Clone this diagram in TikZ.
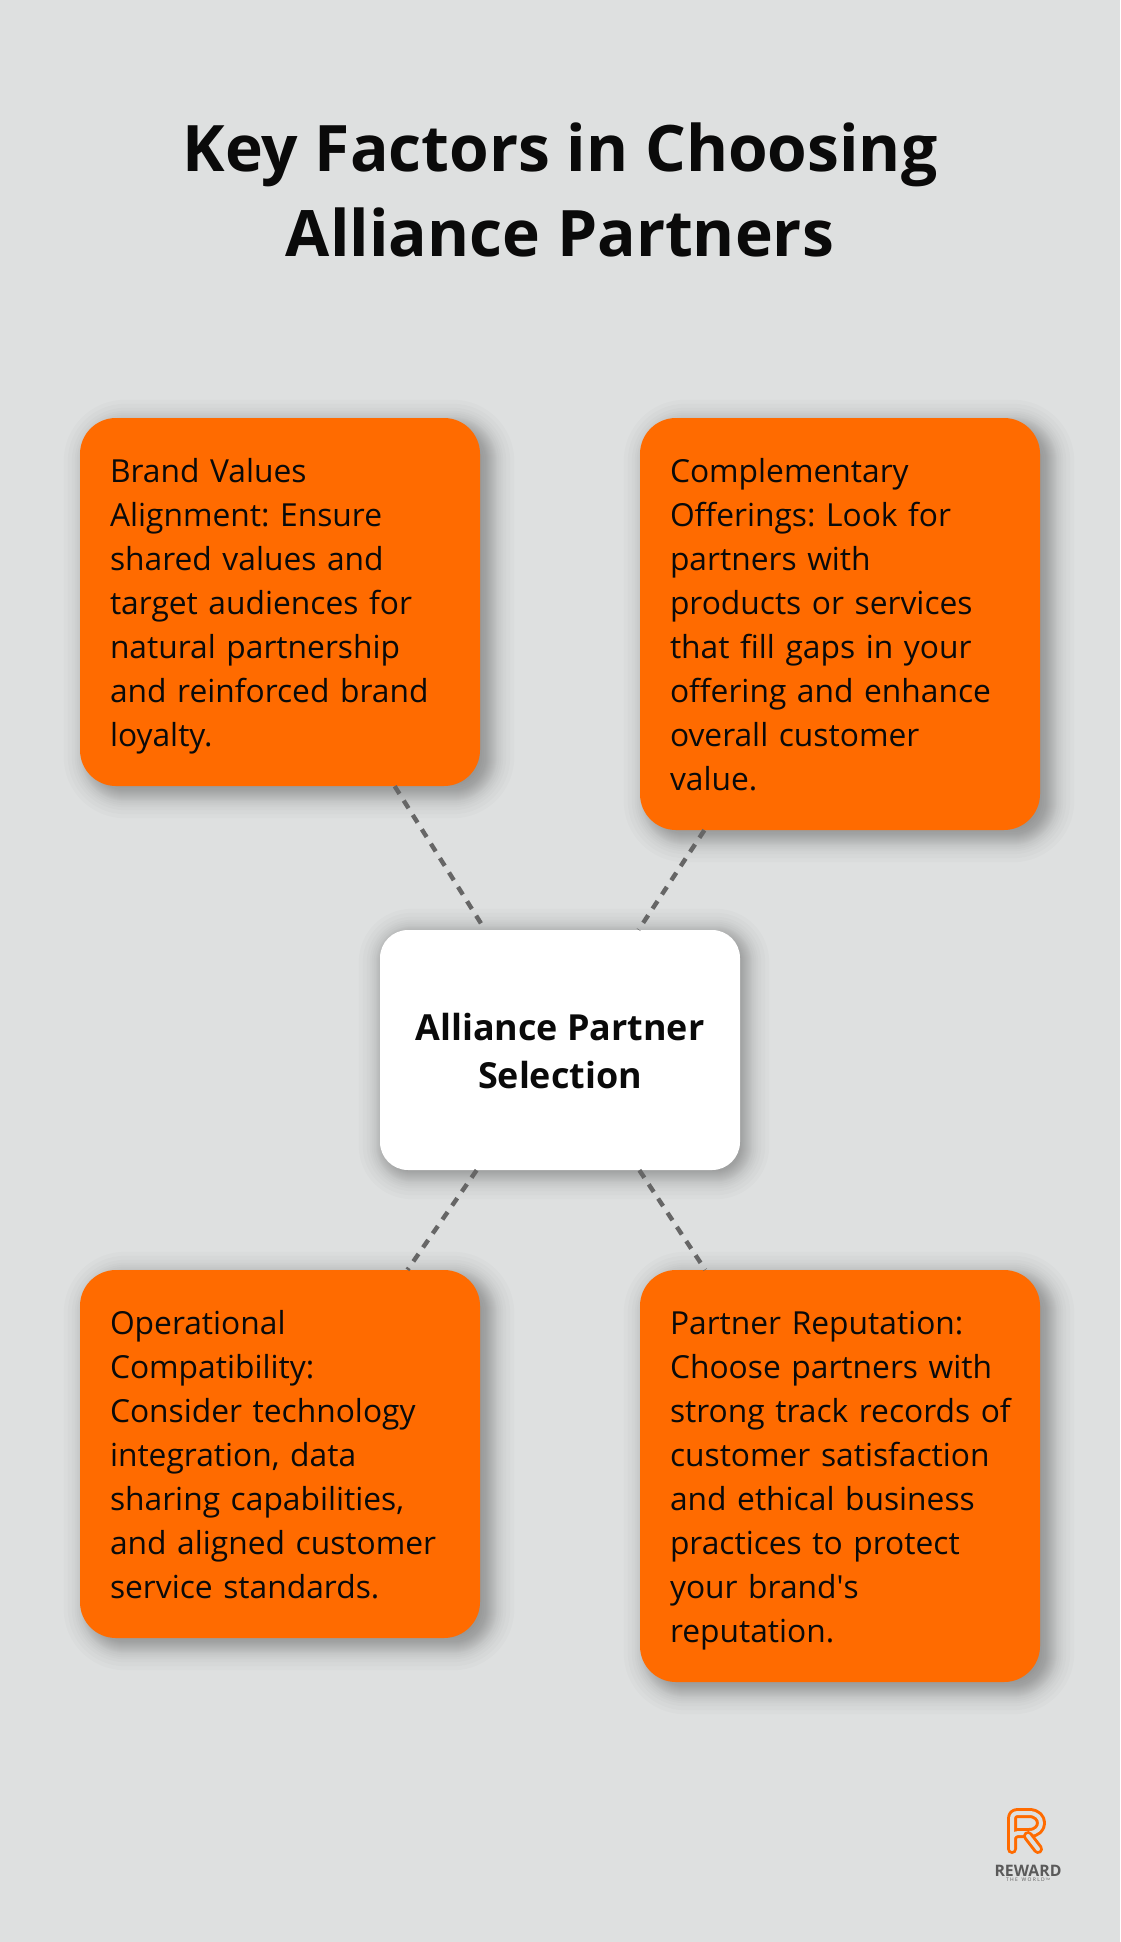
\documentclass[tikz,border=0pt]{standalone}
\usepackage{fontspec}
\setmainfont{Open Sans}
\newfontfamily\oslit{Open Sans}
\frenchspacing
\usetikzlibrary{calc}
\definecolor{bgc}{HTML}{DEE0E0}
\definecolor{orangec}{HTML}{FF6B00}
\definecolor{dashc}{HTML}{666666}
\definecolor{inkc}{HTML}{0A0A0A}
\definecolor{logogray}{HTML}{5A5A5A}
\newcommand{\bs}{\rule[-10pt]{0pt}{44pt}}
% #1 node, #2 radius, #3/#4 offset, #5 opacity of one layer
\newcommand{\softshadow}[5]{%
  \foreach \k in {-16,-12,-9,-7,-5,-3,-2,-1,0,1,2,3,4,5,6,7,8,10,12,14,17,21,25} {
    \fill[black,fill opacity=#5,rounded corners={max(4,#2+\k)*1pt}]
      ($(#1.north west)+(#3-\k,#4-\k)$) rectangle ($(#1.south east)+(#3+\k,#4+\k)$);
  }%
}
\tikzset{
  x=1pt,y=-1pt,
  cardbox/.style={fill=orangec,rounded corners=36pt,inner xsep=30pt,inner ysep=30pt,text width=340pt,align=left,font=\fontsize{31.75}{44}\selectfont,text=inkc},
  hubbox/.style={fill=white,rounded corners=28pt,minimum width=360pt,minimum height=240pt,inner sep=0pt,align=center,font=\fontsize{35.9}{48}\selectfont\bfseries,text=inkc},
  titletext/.style={align=center,font=\fontsize{64.1}{85}\selectfont\bfseries,text=inkc},
  linkline/.style={draw=dashc,line width=4.4pt,dash pattern=on 9pt off 8pt},
  logoline/.style={draw=orangec,line width=3pt,double=bgc,double distance=4pt,line cap=round,line join=round},
}
\begin{document}
\begin{tikzpicture}
\fill[bgc] (0,0) rectangle (1120,1942);
\useasboundingbox (0,0) rectangle (1120,1942);
\node[titletext] (title) at (560,190) {Key Factors in Choosing\\Alliance Partners};
\coordinate (c1) at (280,602);
\coordinate (c2) at (840,624);
\coordinate (c3) at (280,1454);
\coordinate (c4) at (840,1476);
\path (c1) node[cardbox,fill=none,text opacity=0] (s1) {\bs Brand Values\\Alignment: Ensure\\shared values and\\target audiences for\\natural partnership\\and reinforced brand\\\bs loyalty.};
\softshadow{s1}{36}{9}{7}{0.016}
\path (c2) node[cardbox,fill=none,text opacity=0] (s2) {\bs Complementary\\Offerings: Look for\\partners with\\products or services\\that fill gaps in your\\offering and enhance\\overall customer\\\bs value.};
\softshadow{s2}{36}{9}{7}{0.016}
\path (c3) node[cardbox,fill=none,text opacity=0] (s3) {\bs Operational\\Compatibility:\\Consider technology\\integration, data\\sharing capabilities,\\and aligned customer\\\bs service standards.};
\softshadow{s3}{36}{9}{7}{0.016}
\path (c4) node[cardbox,fill=none,text opacity=0] (s4) {\bs Partner Reputation:\\Choose partners with\\\mbox{strong track records of}\\customer satisfaction\\and ethical business\\practices to protect\\your brand{\oslit'}s\\\bs reputation.};
\softshadow{s4}{36}{9}{7}{0.016}
\path (560,1050) node[hubbox,fill=none,text opacity=0] (s0) {};
\softshadow{s0}{28}{4}{4}{0.014}
\node[hubbox] (hub) at (560,1050) {\rule{0pt}{30pt}Alliance Partner\\Selection};
\node[cardbox] (brand) at (c1) {\bs Brand Values\\Alignment: Ensure\\shared values and\\target audiences for\\natural partnership\\and reinforced brand\\\bs loyalty.};
\node[cardbox] (compl) at (c2) {\bs Complementary\\Offerings: Look for\\partners with\\products or services\\that fill gaps in your\\offering and enhance\\overall customer\\\bs value.};
\node[cardbox] (oper) at (c3) {\bs Operational\\Compatibility:\\Consider technology\\integration, data\\sharing capabilities,\\and aligned customer\\\bs service standards.};
\node[cardbox] (repu) at (c4) {\bs Partner Reputation:\\Choose partners with\\\mbox{strong track records of}\\customer satisfaction\\and ethical business\\practices to protect\\your brand{\oslit'}s\\\bs reputation.};
\draw[linkline] (brand) -- (hub);
\draw[linkline] (compl) -- (hub);
\draw[linkline] (hub) -- (oper);
\draw[linkline] (hub) -- (repu);
% logo
\draw[logoline] (1012,1849) -- (1012,1819) .. controls (1012,1815) and (1014,1813) .. (1018,1813) -- (1029,1813) .. controls (1045,1813) and (1045,1833) .. (1029,1833) -- (1019,1833) .. controls (1015,1833) and (1012,1835) .. (1012,1839);
\draw[logoline] (1028,1836) -- (1038,1849);
\node[font=\fontsize{15.8}{16}\selectfont\bfseries,text=logogray,inner sep=0pt] (reward) at (1028,1871) {REWARD};
\node[font=\fontsize{5}{5}\selectfont,text=logogray,inner sep=0pt] (world) at (1028,1880) {T H E\ \ \ W O R L D\,\raisebox{1.5pt}{\fontsize{3}{3}\selectfont TM}};
\end{tikzpicture}
\end{document}
